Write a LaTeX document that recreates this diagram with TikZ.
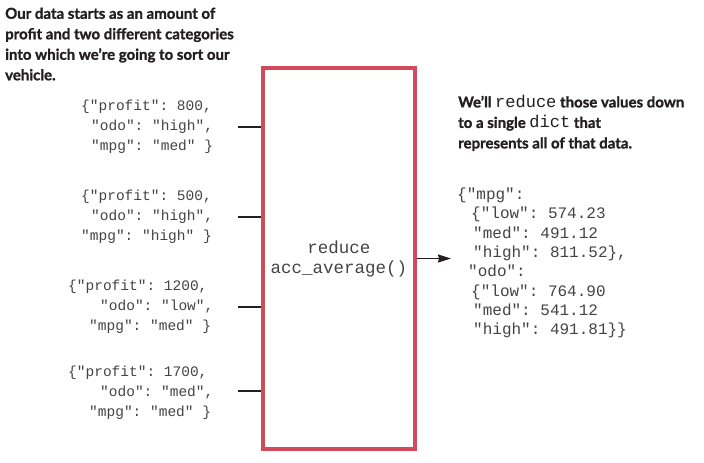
\documentclass[tikz,border=0pt]{standalone}
\usepackage{fontspec}
\setmainfont{Lato}[BoldFeatures={FakeBold=1.2}]
\setmonofont{Liberation Mono}
\usetikzlibrary{arrows.meta}
\definecolor{boxred}{HTML}{D24A5B}
\definecolor{ink}{HTML}{231F20}
\definecolor{codeink}{HTML}{444444}
\begin{document}
\begin{tikzpicture}[x=1pt,y=-1pt,
  capt/.style={anchor=west,align=left,inner sep=0pt,text=ink,font=\fontsize{15}{20.5}\selectfont\bfseries},
  code/.style={anchor=west,align=left,inner sep=0pt,text=codeink,font=\fontsize{14.5}{20}\selectfont\ttfamily},
  conn/.style={draw=ink,line width=1.8pt},
  redbox/.style={draw=boxred,line width=3.2pt,minimum width=152pt,minimum height=381pt,inner sep=0pt,text=codeink,align=center,font=\fontsize{17.5}{20}\selectfont\ttfamily}]
\useasboundingbox (0,0) rectangle (704,463);
\fill[white] (0,0) rectangle (704,463);

\node[capt] (capL) at (5,44) {Our data starts as an amount of\\profit and two different categories\\into which we’re going to sort our\\vehicle.};

\node[redbox] (box) at (339,258.5) {reduce\\acc\_average()};

\node[code] (d1) at (81,127) {\{"profit": 800,\\\hspace*{10pt}"odo": "high",\\\hspace*{10pt}"mpg": "med" \}};
\node[code] (d2) at (81,217) {\{"profit": 500,\\\hspace*{10pt}"odo": "high",\\"mpg": "high" \}};
\node[code] (d3) at (68,307) {\{"profit": 1200,\\\hspace*{32pt}"odo": "low",\\\hspace*{21pt}"mpg": "med" \}};
\node[code] (d4) at (68,393) {\{"profit": 1700,\\\hspace*{32pt}"odo": "med",\\\hspace*{21pt}"mpg": "med" \}};

\coordinate (c1) at (238,127);
\coordinate (c2) at (238,217);
\coordinate (c3) at (238,307);
\coordinate (c4) at (238,391);
\draw[conn] (c1) -- (c1 -| box.west);
\draw[conn] (c2) -- (c2 -| box.west);
\draw[conn] (c3) -- (c3 -| box.west);
\draw[conn] (c4) -- (c4 -| box.west);

\coordinate (outend) at (451,258.5);
\draw[conn,line width=1.6pt,-{Stealth[length=13pt,width=8pt,inset=1pt]}] (box.east) -- (outend);

\node[capt] (capR) at (458,123) {We’ll {\mdseries\ttfamily\fontsize{17}{20}\selectfont reduce} those values down\\to a single {\mdseries\ttfamily\fontsize{17}{20}\selectfont dict} that\\represents all of that data.};

\node[code,font=\fontsize{16}{19.3}\selectfont\ttfamily] (res) at (457,263) {\{"mpg":\\
\hspace*{14pt}\{"low": 574.23\\
\hspace*{16pt}"med": 491.12\\
\hspace*{16pt}"high": 811.52\},\\
\hspace*{11pt}"odo":\\
\hspace*{14pt}\{"low": 764.90\\
\hspace*{16pt}"med": 541.12\\
\hspace*{16pt}"high": 491.81\}\}};
\end{tikzpicture}
\end{document}
